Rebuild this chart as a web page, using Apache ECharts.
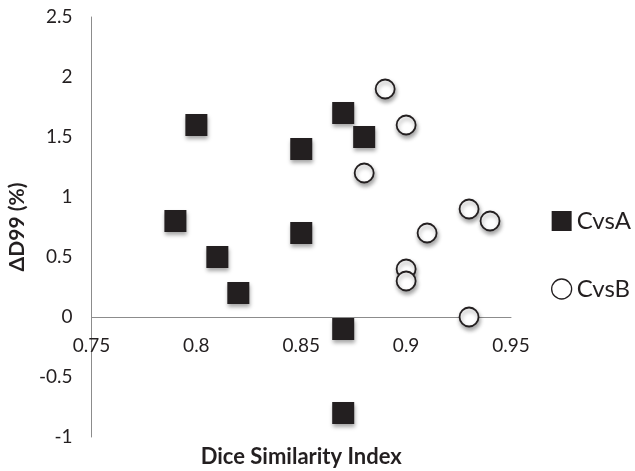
<!DOCTYPE html>
<html>
<head>
<meta charset="utf-8">
<script src="https://cdn.jsdelivr.net/npm/echarts@6/dist/echarts.min.js"></script>
<style>
  html, body { margin: 0; padding: 0; background: #fff; }
  #chart { width: 635px; height: 471px; }
</style>
</head>
<body>
<div id="chart"></div>
<script>
// Dice similarity vs ΔD99
const cvsA_x = [0.79, 0.80, 0.81, 0.82, 0.85, 0.85, 0.87, 0.88, 0.87, 0.87];
const cvsA_y = [0.8, 1.6, 0.5, 0.2, 1.4, 0.7, 1.7, 1.5, -0.1, -0.8];
const cvsB_x = [0.89, 0.90, 0.88, 0.93, 0.94, 0.91, 0.90, 0.90, 0.93];
const cvsB_y = [1.9, 1.6, 1.2, 0.9, 0.8, 0.7, 0.4, 0.3, 0.0];

const xTicks = [0.75, 0.8, 0.85, 0.9, 0.95];
const yTicks = [-1, -0.5, 0, 0.5, 1, 1.5, 2, 2.5];

const font = 'Lato';
const ink = '#231f20';
const axisGrey = '#8c8c8c';

// plot box in px; the x axis sits on y = 0, so it's pulled up from the bottom edge
const plotTop = 17, plotBottom = 34, plotH = 471 - plotTop - plotBottom;
const zeroShift = plotH * (0 - yTicks[0]) / (yTicks[yTicks.length - 1] - yTicks[0]);

function pairs(xs, ys) {
  return xs.map(function (x, i) { return [x, ys[i]]; });
}

function tickText(ticks) {
  return function (v) {
    const i = ticks.findIndex(function (t) { return Math.abs(t - v) < 1e-9; });
    return i >= 0 ? String(ticks[i]) : '';
  };
}

const chart = echarts.init(document.getElementById('chart'));

chart.setOption({
  animation: false,
  backgroundColor: '#fff',
  textStyle: { fontFamily: font, color: ink },
  grid: {
    left: 91.5,
    right: 124,
    top: plotTop,
    bottom: plotBottom,
    containLabel: false,
    outerBoundsMode: 'none'
  },
  legend: {
    orient: 'vertical',
    left: 546,
    top: 204,
    itemWidth: 20,
    itemHeight: 20,
    itemGap: 44,
    textStyle: { fontFamily: font, fontSize: 24, color: ink },
    data: [
      { name: 'CvsA', icon: 'rect', itemStyle: { color: ink, opacity: 1, shadowColor: 'transparent', shadowBlur: 0 } },
      { name: 'CvsB', icon: 'circle', itemStyle: { color: '#fff', opacity: 1, borderColor: ink, borderWidth: 1.3, shadowColor: 'transparent', shadowBlur: 0 } }
    ]
  },
  xAxis: {
    type: 'value',
    min: xTicks[0],
    max: xTicks[xTicks.length - 1],
    interval: 0.05,
    offset: -zeroShift,
    name: 'Dice Similarity Index',
    nameLocation: 'middle',
    nameGap: 129,
    nameTextStyle: { fontFamily: font, fontWeight: 'bold', fontSize: 22, color: ink },
    axisLine: { show: true, onZero: false, lineStyle: { color: axisGrey, width: 1 } },
    axisTick: { show: false },
    splitLine: { show: false },
    axisLabel: { fontFamily: font, fontSize: 19, color: ink, margin: 19, formatter: tickText(xTicks) }
  },
  yAxis: {
    type: 'value',
    min: yTicks[0],
    max: yTicks[yTicks.length - 1],
    interval: 0.5,
    name: 'ΔD99 (%)',
    nameLocation: 'middle',
    nameRotate: 90,
    nameGap: 62,
    nameTextStyle: { fontFamily: font, fontWeight: 'bold', fontSize: 21, color: ink },
    axisLine: { show: true, onZero: false, lineStyle: { color: axisGrey, width: 1 } },
    axisTick: { show: false },
    splitLine: { show: false },
    axisLabel: { fontFamily: font, fontSize: 19, color: ink, margin: 19, formatter: tickText(yTicks) }
  },
  series: [
    {
      name: 'CvsA',
      type: 'scatter',
      symbol: 'rect',
      symbolSize: 22,
      data: pairs(cvsA_x, cvsA_y),
      itemStyle: {
        color: ink,
        opacity: 1,
        shadowColor: 'rgba(0,0,0,0.35)',
        shadowBlur: 4,
        shadowOffsetX: 1,
        shadowOffsetY: 3
      }
    },
    {
      name: 'CvsB',
      type: 'scatter',
      symbol: 'circle',
      symbolSize: 19,
      data: pairs(cvsB_x, cvsB_y),
      itemStyle: {
        color: '#fff',
        opacity: 1,
        borderColor: ink,
        borderWidth: 1.8,
        shadowColor: 'rgba(0,0,0,0.35)',
        shadowBlur: 4,
        shadowOffsetX: 1,
        shadowOffsetY: 3
      }
    }
  ]
});
</script>
</body>
</html>
